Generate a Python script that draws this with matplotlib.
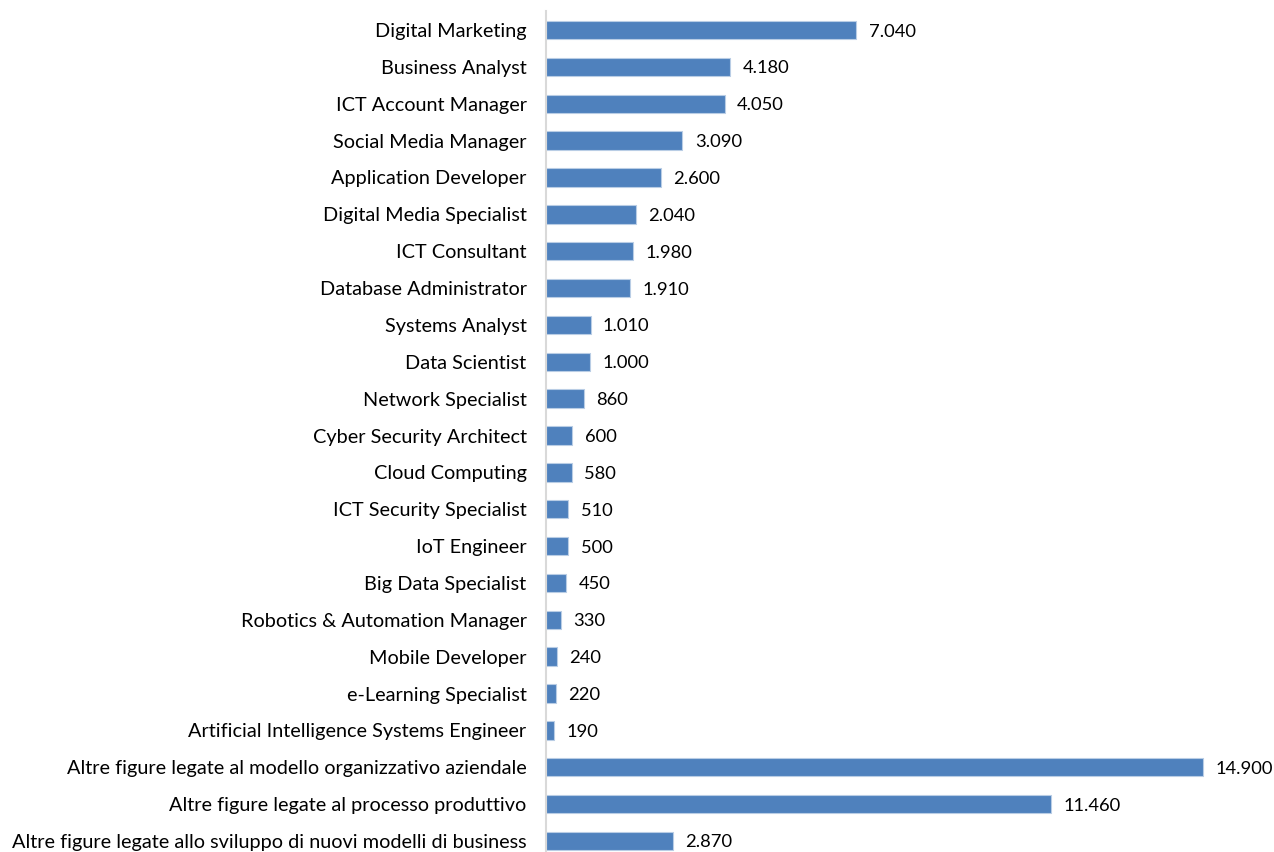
import matplotlib.pyplot as plt

plt.rcParams['font.family'] = ['Lato', 'DejaVu Sans']

categories = [
    "Digital Marketing",
    "Business Analyst",
    "ICT Account Manager",
    "Social Media Manager",
    "Application Developer",
    "Digital Media Specialist",
    "ICT Consultant",
    "Database Administrator",
    "Systems Analyst",
    "Data Scientist",
    "Network Specialist",
    "Cyber Security Architect",
    "Cloud Computing",
    "ICT Security Specialist",
    "IoT Engineer",
    "Big Data Specialist",
    "Robotics & Automation Manager",
    "Mobile Developer",
    "e-Learning Specialist",
    "Artificial Intelligence Systems Engineer",
    "Altre figure legate al modello organizzativo aziendale",
    "Altre figure legate al processo produttivo",
    "Altre figure legate allo sviluppo di nuovi modelli di business",
]
values = [7040, 4180, 4050, 3090, 2600, 2040, 1980, 1910, 1010, 1000,
          860, 600, 580, 510, 500, 450, 330, 240, 220, 190,
          14900, 11460, 2870]

W, H = 1274, 852
fig = plt.figure(figsize=(W / 100, H / 100), dpi=100)
# axes in pixel terms: left edge at x=546, top at y=11, bottom at 852
ax = fig.add_axes([546 / W, 0, (1273 - 546) / W, (852 - 11) / H])

ypos = list(range(len(categories)))
ax.barh(ypos, values, height=0.5, color='#4F81BD', edgecolor='#B9CDE5', linewidth=0.8)

for y, v in zip(ypos, values):
    txt = f"{v:,}".replace(",", ".")
    ax.annotate(txt, (v, y), xytext=(9, 0), textcoords='offset points',
                va='center_baseline', ha='left', fontsize=13.2, color='black',
                annotation_clip=False)

ax.set_yticks(ypos)
ax.set_yticklabels(categories, fontsize=14.3, va='center_baseline')
ax.tick_params(axis='y', length=0, pad=14)
ax.set_xticks([])
ax.set_xlim(0, 726 / 656 * 14900)
ax.set_ylim(22 + 11 / 36.86, -19 / 36.86)

for s in ['top', 'right', 'bottom']:
    ax.spines[s].set_visible(False)
ax.spines['left'].set_color('#D9D9D9')
ax.spines['left'].set_linewidth(1.5)

fig.savefig('out.png', dpi=100)
